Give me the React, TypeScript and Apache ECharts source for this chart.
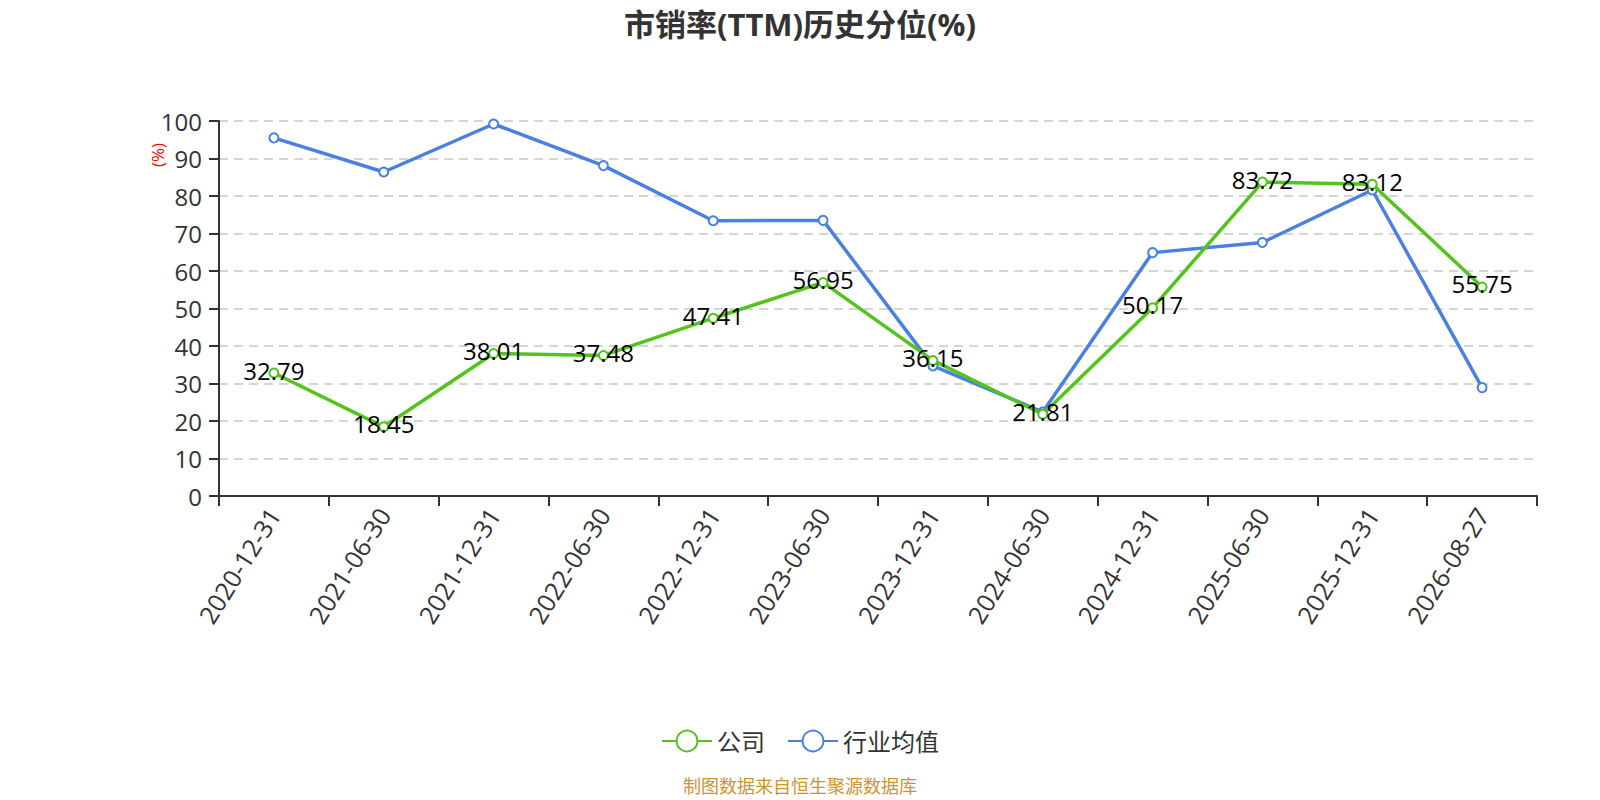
import React, { useEffect, useRef } from "react";
import * as echarts from "echarts";

const categories = [
  "2020-12-31",
  "2021-06-30",
  "2021-12-31",
  "2022-06-30",
  "2022-12-31",
  "2023-06-30",
  "2023-12-31",
  "2024-06-30",
  "2024-12-31",
  "2025-06-30",
  "2025-12-31",
  "2026-08-27",
];
const companyValues = [32.79, 18.45, 38.01, 37.48, 47.41, 56.95, 36.15, 21.81, 50.17, 83.72, 83.12, 55.75];
const industryValues = [95.5, 86.4, 99.2, 88.1, 73.4, 73.5, 34.7, 22.4, 64.9, 67.6, 81.6, 28.9];
const seriesNames = ["公司", "行业均值"];
const titleText = "市销率(TTM)历史分位(%)";
const yAxisUnit = "(%)";
const sourceText = "制图数据来自恒生聚源数据库";

const FONT = "'Open Sans', 'Noto Sans CJK SC', sans-serif";
const GREEN = "#52C41A";
const BLUE = "#4A80E0";

export default function App() {
  const ref = useRef<HTMLDivElement>(null);
  useEffect(() => {
    if (!ref.current) return;
    const chart = echarts.init(ref.current, undefined, { renderer: "svg" });
    chart.setOption({
      animation: false,
      backgroundColor: "#fff",
      textStyle: { fontFamily: FONT },
      title: {
        text: titleText,
        left: "center",
        top: 3,
        textStyle: { fontSize: 31, fontWeight: "bold", color: "#333", fontFamily: FONT },
      },
      legend: {
        data: seriesNames,
        left: "center",
        top: 724,
        itemWidth: 50,
        itemHeight: 26,
        itemGap: 22,
        textStyle: { fontSize: 24, color: "#333", fontFamily: FONT },
      },
      grid: { left: 219, right: 63, top: 121, bottom: 304, containLabel: false },
      xAxis: {
        type: "category",
        data: categories,
        boundaryGap: true,
        axisLine: { lineStyle: { color: "#333", width: 2 } },
        axisTick: { show: true, length: 10, lineStyle: { color: "#333", width: 2 } },
        axisLabel: { rotate: 58, fontSize: 25, color: "#333", margin: 14, interval: 0, fontFamily: FONT },
        splitLine: { show: false },
      },
      yAxis: {
        type: "value",
        min: 0,
        max: 100,
        interval: 10,
        axisLine: { show: true, lineStyle: { color: "#333", width: 2 } },
        axisTick: { show: true, length: 10, lineStyle: { color: "#333", width: 2 } },
        axisLabel: { fontSize: 24, color: "#333", margin: 17, fontFamily: FONT },
        splitLine: { show: true, lineStyle: { color: "#c8c8c8", width: 1.5, type: [9, 6] } },
      },
      graphic: [
        {
          type: "text",
          x: 157,
          y: 155,
          rotation: Math.PI / 2,
          style: {
            text: yAxisUnit,
            fill: "#ff0000",
            fontSize: 17,
            fontFamily: FONT,
            textAlign: "center",
            textVerticalAlign: "middle",
          },
        },
        {
          type: "text",
          x: 800,
          y: 786,
          style: {
            text: sourceText,
            fill: "#C9962E",
            fontSize: 18,
            fontFamily: FONT,
            textAlign: "center",
            textVerticalAlign: "middle",
          },
        },
      ],
      series: [
        {
          name: seriesNames[0],
          type: "line",
          data: companyValues,
          symbol: "emptyCircle",
          symbolSize: 9,
          z: 3,
          lineStyle: { color: GREEN, width: 3.5 },
          itemStyle: { color: GREEN, borderWidth: 2 },
          label: {
            show: true,
            position: "inside",
            offset: [0, -3],
            fontSize: 24,
            color: "#000",
            fontFamily: FONT,
          },
        },
        {
          name: seriesNames[1],
          type: "line",
          data: industryValues,
          symbol: "emptyCircle",
          symbolSize: 9,
          z: 2,
          lineStyle: { color: BLUE, width: 3.5 },
          itemStyle: { color: BLUE, borderWidth: 2 },
          label: { show: false },
        },
      ],
    });
    return () => chart.dispose();
  }, []);
  return (
    <div
      ref={ref}
      style={{ position: "fixed", left: 0, top: 0, width: 1600, height: 800, background: "#fff" }}
    />
  );
}
